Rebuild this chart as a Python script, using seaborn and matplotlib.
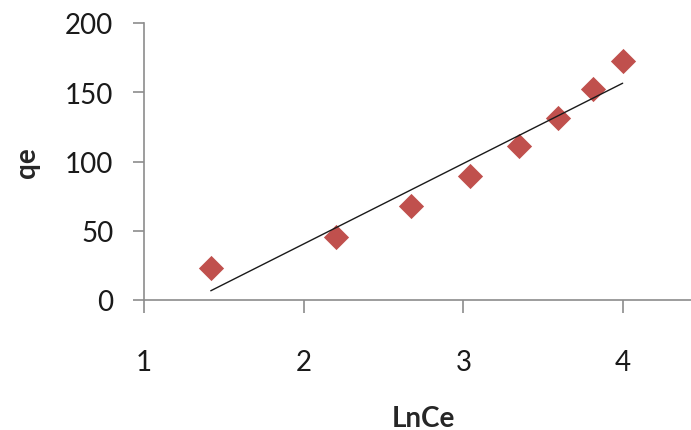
import numpy as np
import pandas as pd
import matplotlib
matplotlib.use("Agg")
import matplotlib.pyplot as plt
import seaborn as sns

# values
ln_ce = [1.418, 2.20, 2.672, 3.041, 3.346, 3.594, 3.811, 3.997]
qe = [22.9, 45.7, 68.1, 89.8, 111.0, 131.2, 152.3, 172.3]
x_ticks = [1, 2, 3, 4]
y_ticks = [0, 50, 100, 150, 200]


def main():
    sns.set_style("white")
    plt.rcParams["font.family"] = ["Lato", "DejaVu Sans"]

    df = pd.DataFrame({"LnCe": ln_ce, "qe": qe})

    fig = plt.figure(figsize=(6.91, 4.31), dpi=100)
    ax = fig.add_axes([144 / 691, 130 / 431, 559 / 691, 277 / 431])

    # scatter + linear trendline over the data range
    sns.regplot(
        data=df,
        x="LnCe",
        y="qe",
        ci=None,
        truncate=True,
        marker="D",
        scatter_kws={"s": 165, "color": "#C0504D", "linewidths": 0, "alpha": 1},
        line_kws={"color": "#1a1a1a", "linewidth": 1.0},
        ax=ax,
    )

    ax.set_xlim(1, 4.5)
    ax.set_ylim(0, 200)
    ax.set_xticks(x_ticks)
    ax.set_yticks(y_ticks)

    spine_color = "#8c8c8c"
    for side in ["top", "right"]:
        ax.spines[side].set_visible(False)
    for side in ["left", "bottom"]:
        ax.spines[side].set_color(spine_color)
        ax.spines[side].set_linewidth(1.2)

    ax.tick_params(axis="y", direction="out", length=8, width=1.2,
                   color=spine_color, labelsize=20, pad=14, labelcolor="#1a1a1a")
    ax.tick_params(axis="x", direction="out", length=9, width=1.2,
                   color=spine_color, labelsize=20, pad=26, labelcolor="#1a1a1a")
    ax.tick_params(left=True, bottom=True)

    ax.set_xlabel("LnCe", fontsize=20, fontweight="bold", labelpad=22)
    ax.set_ylabel("qe", fontsize=20, fontweight="bold", labelpad=18)

    fig.savefig("out.png", dpi=100)


if __name__ == "__main__":
    main()
